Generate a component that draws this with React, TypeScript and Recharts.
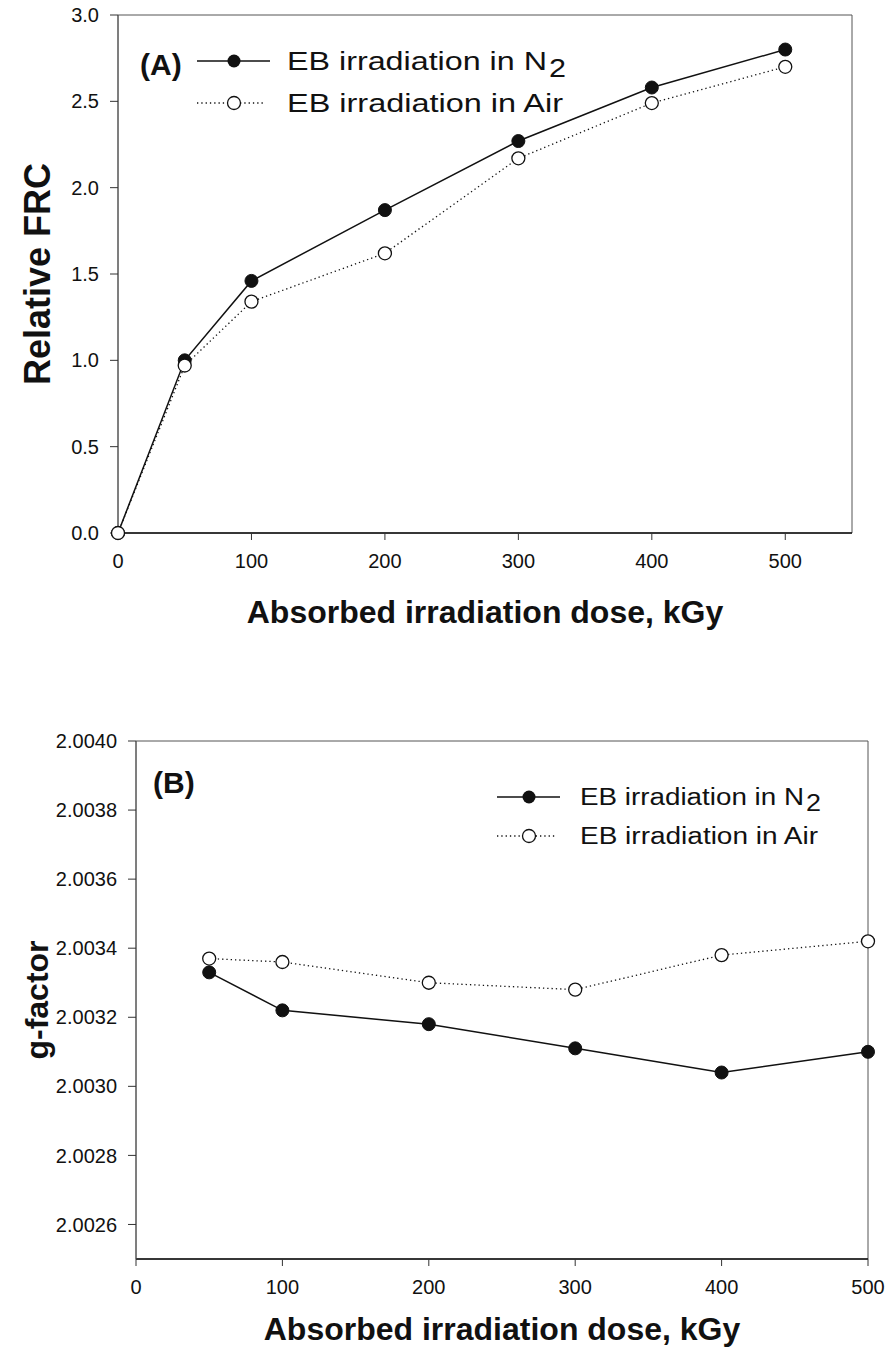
import { LineChart, Line, XAxis, YAxis, ReferenceArea } from "recharts";

// panel A: relative FRC vs dose
const doseA = [0, 50, 100, 200, 300, 400, 500];
const frcN2 = [0, 1.0, 1.46, 1.87, 2.27, 2.58, 2.8];
const frcAir = [0, 0.97, 1.34, 1.62, 2.17, 2.49, 2.7];
const frcTicks = [0, 0.5, 1, 1.5, 2, 2.5, 3];

// panel B: g-factor vs dose
const doseB = [50, 100, 200, 300, 400, 500];
const gN2 = [2.00333, 2.00322, 2.00318, 2.00311, 2.00304, 2.0031];
const gAir = [2.00337, 2.00336, 2.0033, 2.00328, 2.00338, 2.00342];
const gTicks = [2.0026, 2.0028, 2.003, 2.0032, 2.0034, 2.0036, 2.0038, 2.004];

const doseTicks = [0, 100, 200, 300, 400, 500];
const seriesNames = ["EB irradiation in N", "EB irradiation in Air"];

const font = "'Liberation Sans', Arial, sans-serif";
const ink = "#111";

const dataA = doseA.map((d, i) => ({ dose: d, n2: frcN2[i], air: frcAir[i] }));
const dataB = doseB.map((d, i) => ({ dose: d, n2: gN2[i], air: gAir[i] }));

const tickStyle = { fontSize: 20, fill: ink, fontFamily: font };
const titleStyle = { fontWeight: 700, fill: ink, fontFamily: font };
const filledDot = { r: 6.5, fill: ink, stroke: ink, strokeWidth: 1, strokeDasharray: "none" };
const hollowDot = { r: 6.5, fill: "#fff", stroke: ink, strokeWidth: 1.3, strokeDasharray: "none" };

function Panel({
  data,
  xMax,
  yDomain,
  yTicks,
  yFormat,
  yLabel,
  yLabelSize,
  yWidth,
  right,
  height,
  xHeight,
  titleOffset,
}: {
  data: { dose: number; n2: number; air: number }[];
  xMax: number;
  yDomain: [number, number];
  yTicks: number[];
  yFormat: (v: number) => string;
  yLabel: string;
  yLabelSize: number;
  yWidth: number;
  right: number;
  height: number;
  xHeight: number;
  titleOffset: number;
}) {
  return (
    <LineChart
      width={888}
      height={height}
      data={data}
      margin={{ top: 15, right, bottom: 0, left: 0 }}
    >
      <XAxis
        type="number"
        dataKey="dose"
        domain={[0, xMax]}
        ticks={doseTicks}
        tickSize={7}
        tickMargin={14}
        tick={tickStyle}
        tickLine={{ stroke: "#333" }}
        axisLine={{ stroke: ink, strokeWidth: 1.5 }}
        height={xHeight}
        label={{
          value: "Absorbed irradiation dose, kGy",
          position: "insideBottom",
          offset: titleOffset,
          fontSize: 32,
          ...titleStyle,
        }}
      />
      <YAxis
        type="number"
        domain={yDomain}
        ticks={yTicks}
        tickFormatter={yFormat}
        tickSize={8}
        tickMargin={11}
        tick={tickStyle}
        tickLine={{ stroke: "#333" }}
        axisLine={{ stroke: "#555" }}
        width={yWidth}
        label={{
          value: yLabel,
          angle: -90,
          position: "insideLeft",
          offset: 37,
          style: { textAnchor: "middle" },
          fontSize: yLabelSize,
          ...titleStyle,
        }}
      />
      <ReferenceArea
        x1={0}
        x2={xMax}
        y1={yDomain[0]}
        y2={yDomain[1]}
        fill="none"
        stroke="#555"
        strokeWidth={1}
      />
      <Line
        dataKey="n2"
        type="linear"
        stroke={ink}
        strokeWidth={1.5}
        dot={filledDot}
        isAnimationActive={false}
      />
      <Line
        dataKey="air"
        type="linear"
        stroke={ink}
        strokeWidth={1.3}
        strokeDasharray="1.3 3"
        dot={hollowDot}
        isAnimationActive={false}
      />
    </LineChart>
  );
}

function LegendBlock({
  tag,
  tagX,
  tagY,
  x0,
  x1,
  cx,
  textX,
  rowY,
  size,
  widths,
}: {
  tag: string;
  tagX: number;
  tagY: number;
  x0: number;
  x1: number;
  cx: number;
  textX: number;
  rowY: [number, number];
  size: number;
  widths: [number, number, number];
}) {
  const base = size * 0.36;
  return (
    <g fontFamily={font} fill={ink}>
      <text x={tagX} y={tagY} fontSize={30} fontWeight={700}>
        {tag}
      </text>
      <line x1={x0} x2={x1} y1={rowY[0]} y2={rowY[0]} stroke={ink} strokeWidth={1.5} />
      <circle cx={cx} cy={rowY[0]} r={6.5} fill={ink} />
      <text
        x={textX}
        y={rowY[0] + base}
        fontSize={size}
        textLength={widths[0]}
        lengthAdjust="spacingAndGlyphs"
      >
        {seriesNames[0]}
      </text>
      <text
        x={textX + widths[0] + 2}
        y={rowY[0] + base + size * 0.25}
        fontSize={size}
        textLength={widths[2]}
        lengthAdjust="spacingAndGlyphs"
      >
        2
      </text>
      <line
        x1={x0}
        x2={x1 - 5}
        y1={rowY[1]}
        y2={rowY[1]}
        stroke={ink}
        strokeWidth={1.3}
        strokeDasharray="1.3 3"
      />
      <circle cx={cx} cy={rowY[1]} r={6.5} fill="#fff" stroke={ink} strokeWidth={1.3} />
      <text
        x={textX}
        y={rowY[1] + base}
        fontSize={size}
        textLength={widths[1]}
        lengthAdjust="spacingAndGlyphs"
      >
        {seriesNames[1]}
      </text>
    </g>
  );
}

export default function App() {
  return (
    <div
      style={{
        position: "absolute",
        left: 0,
        top: 0,
        width: 888,
        height: 1354,
        background: "#fff",
        fontFamily: font,
      }}
    >
      <div style={{ position: "absolute", left: 0, top: 0 }}>
        <Panel
          data={dataA}
          xMax={550}
          yDomain={[0, 3]}
          yTicks={frcTicks}
          yFormat={(v) => v.toFixed(1)}
          yLabel="Relative FRC"
          yLabelSize={36}
          yWidth={118}
          right={36}
          height={640}
          xHeight={107}
          titleOffset={17}
        />
      </div>
      <div style={{ position: "absolute", left: 0, top: 726 }}>
        <Panel
          data={dataB}
          xMax={500}
          yDomain={[2.0025, 2.004]}
          yTicks={gTicks}
          yFormat={(v) => v.toFixed(4)}
          yLabel="g-factor"
          yLabelSize={32}
          yWidth={136}
          right={20}
          height={628}
          xHeight={95}
          titleOffset={14}
        />
      </div>
      <svg
        width={888}
        height={1354}
        style={{ position: "absolute", left: 0, top: 0, pointerEvents: "none" }}
      >
        <LegendBlock
          tag="(A)"
          tagX={140}
          tagY={75}
          x0={197}
          x1={270}
          cx={234}
          textX={287}
          rowY={[61, 103]}
          size={26}
          widths={[260, 276, 17]}
        />
        <LegendBlock
          tag="(B)"
          tagX={153}
          tagY={793}
          x0={497}
          x1={560}
          cx={529}
          textX={580}
          rowY={[797, 836]}
          size={23}
          widths={[224, 238, 15]}
        />
      </svg>
    </div>
  );
}
